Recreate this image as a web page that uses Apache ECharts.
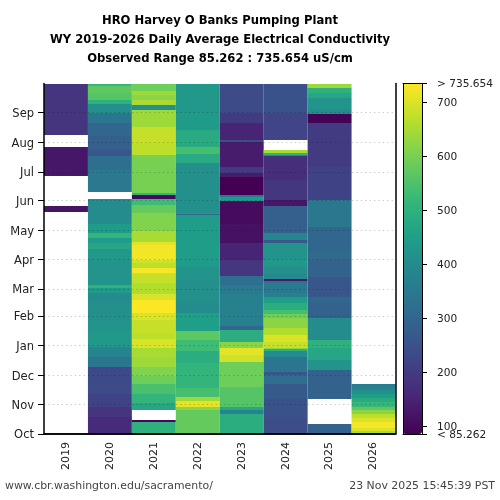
<!DOCTYPE html>
<html>
<head>
<meta charset="utf-8">
<style>html,body{margin:0;background:#fff}#chart{width:500px;height:500px}</style>
<script src="https://cdn.jsdelivr.net/npm/echarts@6/dist/echarts.min.js"></script>
</head>
<body>
<div id="chart"></div>
<script>
// water years on the x axis
const years = ['2019', '2020', '2021', '2022', '2023', '2024', '2025', '2026'];
const monthNames = ['Oct', 'Nov', 'Dec', 'Jan', 'Feb', 'Mar', 'Apr', 'May', 'Jun', 'Jul', 'Aug', 'Sep'];
const monthStarts = [0, 31, 61, 92, 123, 151, 182, 212, 243, 273, 304, 335];
const colorMin = 85.262;
const colorMax = 735.654;
const colorTicks = [100, 200, 300, 400, 500, 600, 700, colorMax];

// each row: [first day of water year, uS/cm], held until the next row. null = no data
const wy2019 = [[0, null], [231, 120], [237, null], [269, 125], [299, null], [311, 185]];
const wy2020 = [[0, 165], [18, 185], [28, 215], [42, 235], [51, 230], [70, 340], [80, 380], [91, 430], [107, 420], [119, 410], [136, 400], [147, 440], [152, 500], [155, 420], [181, 430], [193, 470], [199, 440], [204, 510], [209, 440], [219, 400], [245, null], [252, 350], [275, 320], [289, 260], [296, 280], [310, 300], [324, 340], [334, 410], [344, 500], [348, 560], [355, 570], [362, 520]];
const wy2021 = [[0, 500], [13, 100], [15, null], [25, 470], [32, 510], [42, 545], [52, 590], [60, 610], [70, 640], [80, 650], [90, 700], [99, 670], [105, 680], [119, 700], [126, 735], [140, 700], [146, 660], [157, 680], [167, 690], [168, 730], [173, 670], [178, 690], [181, 725], [197, 710], [200, 650], [211, 610], [230, 580], [238, 530], [245, 100], [249, 510], [251, 600], [291, 670], [303, 680], [320, 640], [337, 410], [343, 650], [348, 620], [353, 640], [357, 590]];
const wy2022 = [[0, 580], [25, 620], [28, 710], [34, 640], [39, 540], [48, 510], [74, 490], [86, 530], [98, 570], [107, 450], [126, 400], [136, 410], [160, 420], [174, 440], [181, 445], [228, 300], [229, 445], [230, 410], [282, 480], [292, 540], [299, 480], [317, 440], [334, 430]];
const wy2023 = [[0, 490], [21, 380], [25, 470], [28, 560], [49, 590], [75, 690], [82, 710], [90, 620], [96, 490], [108, 300], [112, 370], [146, 350], [155, 320], [165, 190], [181, 150], [199, 115], [219, 105], [243, 440], [247, 340], [249, 85], [268, 135], [272, 200], [278, 135], [304, 240], [306, 150], [324, 200], [334, 235]];
const wy2024 = [[0, 240], [18, 250], [36, 270], [52, 320], [61, 260], [65, 340], [80, 400], [86, 500], [88, 620], [90, 680], [96, 700], [103, 660], [110, 620], [121, 590], [125, 540], [129, 490], [136, 450], [143, 370], [147, 350], [157, 330], [159, 130], [161, 390], [167, 410], [174, 430], [181, 420], [199, 260], [202, 380], [209, 280], [237, 125], [244, 190], [265, 170], [289, 400], [291, 500], [293, 650], [296, null], [306, 220], [334, 250]];
const wy2025 = [[0, 290], [10, null], [36, 290], [67, 420], [77, 470], [90, 500], [98, 400], [121, 290], [136, 300], [143, 260], [164, 290], [181, 310], [190, 300], [216, 345], [244, 215], [278, 200], [324, 90], [333, 400], [338, 420], [350, 470], [355, 500], [360, 640]];
const wy2026 = [[0, 650], [3, 700], [6, 730], [13, 700], [17, 670], [21, 620], [25, 570], [28, 520], [33, 480], [37, 450], [42, 410], [46, 380], [49, 360], [52, null]];
const allYears = [wy2019, wy2020, wy2021, wy2022, wy2023, wy2024, wy2025, wy2026];

const dayCount = 365;

// one cell per held run: [year index, first day, end day, value]
const cells = [];
allYears.forEach((rows, col) => {
  rows.forEach((row, i) => {
    const end = i + 1 < rows.length ? rows[i + 1][0] : dayCount;
    if (row[1] !== null) cells.push([col, row[0], end, row[1]]);
  });
});

const viridis = ['#440154', '#482878', '#3e4989', '#31688e', '#26828e', '#1f9e89', '#35b779', '#6ece58', '#b5de2b', '#fde725'];
const font = 'DejaVu Sans';

function renderCell(params, api) {
  const bottom = api.coord([api.value(0), api.value(1)]);
  const top = api.coord([api.value(0), api.value(2)]);
  const w = api.size([1, 0])[0];
  const y0 = Math.round(top[1]);
  const y1 = Math.round(bottom[1]);
  return {
    type: 'rect',
    shape: { x: top[0] - w / 2, y: y0, width: w, height: y1 - y0 },
    style: { fill: api.visual('color') }
  };
}

const myChart = echarts.init(document.getElementById('chart'));
myChart.setOption({
  animation: false,
  textStyle: { fontFamily: font },
  title: [
    {
      text: 'HRO Harvey O Banks Pumping Plant\nWY 2019-2026 Daily Average Electrical Conductivity\nObserved Range 85.262 : 735.654 uS/cm',
      left: 220, top: 11, padding: 0, textAlign: 'center',
      textStyle: { fontFamily: font, fontSize: 11.6, fontWeight: 'bold', color: '#000', lineHeight: 19 }
    },
    {
      text: 'www.cbr.washington.edu/sacramento/',
      left: 5, top: 481, padding: 0,
      textStyle: { fontFamily: font, fontSize: 10.9, fontWeight: 'normal', color: '#444' }
    },
    {
      text: '23 Nov 2025 15:45:39 PST',
      right: 5, top: 481, padding: 0,
      textStyle: { fontFamily: font, fontSize: 10.9, fontWeight: 'normal', color: '#444' }
    }
  ],
  grid: [
    { left: 44, top: 83.5, width: 351.5, height: 350.5 },
    { left: 403, top: 83.5, width: 19, height: 350.5 }
  ],
  xAxis: [
    {
      type: 'category', data: years, gridIndex: 0, z: 6,
      axisLine: { lineStyle: { color: '#000', width: 1.5 } },
      axisTick: { alignWithLabel: true, length: 5, lineStyle: { color: '#000' } },
      axisLabel: { rotate: 90, fontSize: 11, color: '#222', margin: 8 }
    },
    {
      type: 'category', data: years, gridIndex: 0, position: 'top', z: 6,
      axisLine: { lineStyle: { color: '#000', width: 1.5 } },
      axisTick: { show: false }, axisLabel: { show: false }
    },
    {
      type: 'category', data: [''], gridIndex: 1, z: 6,
      axisLine: { lineStyle: { color: '#000', width: 1 } },
      axisTick: { show: false }, axisLabel: { show: false }
    },
    {
      type: 'category', data: [''], gridIndex: 1, position: 'top', z: 6,
      axisLine: { lineStyle: { color: '#000', width: 1 } },
      axisTick: { show: false }, axisLabel: { show: false }
    }
  ],
  yAxis: [
    {
      type: 'value', gridIndex: 0, z: 5, min: 0, max: dayCount,
      axisLine: { show: true, lineStyle: { color: '#000', width: 1.5 } },
      axisTick: { show: true, length: 6, customValues: monthStarts, lineStyle: { color: '#000' } },
      axisLabel: {
        customValues: monthStarts, fontSize: 11.5, color: '#222', margin: 10,
        verticalAlign: 'top', lineHeight: 3,
        formatter: (v) => monthNames[monthStarts.indexOf(v)]
      },
      splitLine: {
        show: true,
        lineStyle: { color: 'rgba(0,0,0,0.22)', type: [1.3, 3.1], width: 1 }
      }
    },
    {
      type: 'value', gridIndex: 0, position: 'right', z: 6, min: 0, max: dayCount,
      axisLine: { show: true, lineStyle: { color: '#000', width: 1.5 } },
      axisTick: { show: false }, axisLabel: { show: false }, splitLine: { show: false }
    },
    {
      type: 'value', gridIndex: 1, position: 'right', z: 6,
      min: colorMin, max: colorMax,
      axisLine: { show: true, lineStyle: { color: '#000', width: 1 } },
      axisTick: { show: true, length: 5, customValues: colorTicks, lineStyle: { color: '#000' } },
      axisLabel: {
        fontSize: 10.6, color: '#222', margin: 15, customValues: colorTicks,
        verticalAlign: 'top', lineHeight: 2, showMaxLabel: true,
        formatter: (v) => (v === colorMax ? '> ' + v : String(v))
      },
      splitLine: { show: false }
    },
    {
      type: 'value', gridIndex: 1, position: 'left', z: 6,
      min: colorMin, max: colorMax,
      axisLine: { show: true, lineStyle: { color: '#000', width: 1 } },
      axisTick: { show: false }, axisLabel: { show: false }, splitLine: { show: false }
    },
    {
      // bottom colour bar label sits on its own axis, it overlaps the 100 label
      type: 'value', gridIndex: 1, position: 'right', z: 6,
      min: colorMin, max: colorMax,
      axisLine: { show: false },
      axisTick: { show: true, length: 5, customValues: [colorMin], lineStyle: { color: '#000' } },
      axisLabel: {
        fontSize: 10.6, color: '#222', margin: 15, customValues: [colorMin],
        verticalAlign: 'top', lineHeight: 2, showMinLabel: true,
        formatter: (v) => '< ' + v
      },
      splitLine: { show: false }
    }
  ],
  visualMap: {
    type: 'continuous', seriesIndex: 0, dimension: 3,
    min: colorMin, max: colorMax,
    left: 403, top: 83.5, itemWidth: 19, itemHeight: 350.5, padding: 0,
    calculable: false, hoverLink: false,
    inRange: { color: viridis }
  },
  series: [
    {
      type: 'custom', data: cells, xAxisIndex: 0, yAxisIndex: 0,
      renderItem: renderCell, encode: { x: 0, y: [1, 2] },
      progressive: 0, z: 2, silent: true
    }
  ]
});
</script>
</body>
</html>
